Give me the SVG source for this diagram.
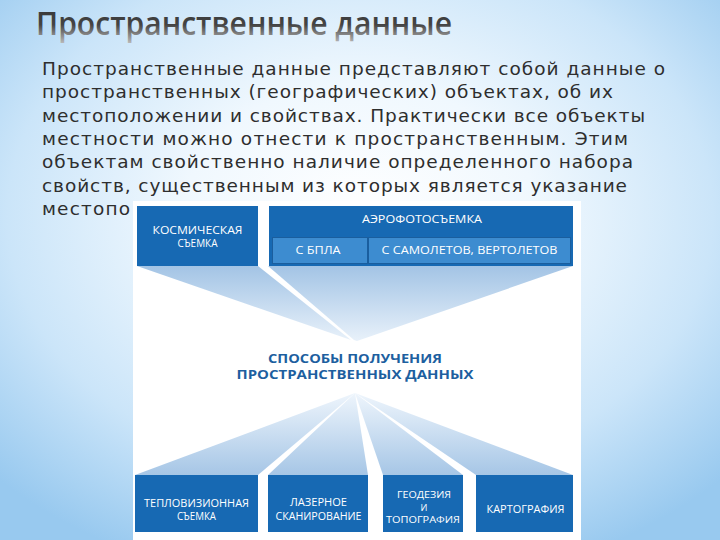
<svg xmlns="http://www.w3.org/2000/svg" width="720" height="540" viewBox="0 0 720 540">
<defs>
<radialGradient id="bg" cx="0.5" cy="0.4" r="0.7">
<stop offset="0" stop-color="#ffffff"/>
<stop offset="0.35" stop-color="#f0f8fe"/>
<stop offset="0.7" stop-color="#cbe5f9"/>
<stop offset="1" stop-color="#98c9ef"/>
</radialGradient>
<linearGradient id="titleg" x1="0" y1="0" x2="0" y2="1">
<stop offset="0" stop-color="#333333"/>
<stop offset="0.55" stop-color="#444444"/>
<stop offset="0.75" stop-color="#808080"/>
<stop offset="1" stop-color="#c4c4c4"/>
</linearGradient>
<linearGradient id="fanTop" gradientUnits="userSpaceOnUse" x1="0" y1="266" x2="0" y2="341">
<stop offset="0" stop-color="#a3c4e5"/>
<stop offset="1" stop-color="#e8f1fa"/>
</linearGradient>
<linearGradient id="fanBot" gradientUnits="userSpaceOnUse" x1="0" y1="393" x2="0" y2="475">
<stop offset="0" stop-color="#eef5fc"/>
<stop offset="1" stop-color="#a6c6e6"/>
</linearGradient>
<style>
.body{font-family:"DejaVu Sans",sans-serif;font-size:18.5px;fill:#2e2e2e}
.box{fill:#1769b3}
.sub{fill:#3d8cd0;stroke:#1a5e9e;stroke-width:1}
.lbl{font-family:"Open Sans","Liberation Sans",sans-serif;font-size:10px;font-weight:500;fill:#ffffff;text-anchor:middle}
.sm{font-size:9px}
.ctr{font-family:"Open Sans","Liberation Sans",sans-serif;font-weight:700;font-size:12.5px;fill:#1d5f9f;text-anchor:middle}
.fanT{fill:url(#fanTop)}
.fanB{fill:url(#fanBot)}
</style>
</defs>
<rect x="0" y="0" width="720" height="540" fill="url(#bg)"/>
<text x="36" y="35" font-family="'Open Sans','DejaVu Sans',sans-serif" font-weight="600" font-size="33" fill="url(#titleg)" textLength="416" lengthAdjust="spacingAndGlyphs">Пространственные данные</text>
<g id="body-text" class="body">
<text x="42" y="75" textLength="623" lengthAdjust="spacing">Пространственные данные представляют собой данные о</text>
<text x="42" y="98" textLength="571" lengthAdjust="spacing">пространственных (географических) объектах, об их</text>
<text x="42" y="121.5" textLength="603" lengthAdjust="spacing">местоположении и свойствах. Практически все объекты</text>
<text x="42" y="145" textLength="586" lengthAdjust="spacing">местности можно отнести к пространственным. Этим</text>
<text x="42" y="168" textLength="591" lengthAdjust="spacing">объектам свойственно наличие определенного набора</text>
<text x="42" y="191.5" textLength="585" lengthAdjust="spacing">свойств, существенным из которых является указание</text>
<text x="42" y="215" textLength="88" lengthAdjust="spacing">местопо</text>
</g>
<rect id="panel" x="133" y="201" width="448" height="339" fill="#ffffff"/>
<g id="connectors">
<polygon class="fanT" points="137,266 258,266 351,340"/>
<polygon class="fanT" points="268,266 573,266 357,341 354,340"/>
<polygon class="fanB" points="355,393 135,475 258,475"/>
<polygon class="fanB" points="355,393 268,475 368,475"/>
<polygon class="fanB" points="355,393 383,475 463,475"/>
<polygon class="fanB" points="355,393 476,475 573,475"/>
</g>
<g id="node-space">
<rect class="box" x="137" y="206" width="121" height="60"/>
<text class="lbl" x="197.5" y="233.5" textLength="90" lengthAdjust="spacingAndGlyphs">КОСМИЧЕСКАЯ</text>
<text class="lbl" x="197.5" y="246.5" textLength="40" lengthAdjust="spacingAndGlyphs">СЪЕМКА</text>
</g>
<g id="node-aero">
<rect class="box" x="269" y="206" width="304" height="60"/>
<text class="lbl" x="422" y="222.5" textLength="120" lengthAdjust="spacingAndGlyphs">АЭРОФОТОСЪЕМКА</text>
</g>
<g id="node-uav">
<rect class="sub" x="272.5" y="237.5" width="95" height="26"/>
<text class="lbl" x="318" y="253.5" textLength="45" lengthAdjust="spacingAndGlyphs">С БПЛА</text>
</g>
<g id="node-planes">
<rect class="sub" x="368.5" y="237.5" width="202" height="26"/>
<text class="lbl" x="469.5" y="253.5" textLength="176" lengthAdjust="spacingAndGlyphs">С САМОЛЕТОВ, ВЕРТОЛЕТОВ</text>
</g>
<g id="node-center">
<text class="ctr" x="355" y="362.5" textLength="174" lengthAdjust="spacingAndGlyphs">СПОСОБЫ ПОЛУЧЕНИЯ</text>
<text class="ctr" x="355" y="379" textLength="237" lengthAdjust="spacingAndGlyphs">ПРОСТРАНСТВЕННЫХ ДАННЫХ</text>
</g>
<g id="node-thermal">
<rect class="box" x="135" y="475" width="123" height="57"/>
<text class="lbl" x="196.5" y="506.5" textLength="105" lengthAdjust="spacingAndGlyphs">ТЕПЛОВИЗИОННАЯ</text>
<text class="lbl" x="196.5" y="519.5" textLength="39" lengthAdjust="spacingAndGlyphs">СЪЕМКА</text>
</g>
<g id="node-laser">
<rect class="box" x="268" y="475" width="100" height="57"/>
<text class="lbl" x="318.5" y="505.5" textLength="57" lengthAdjust="spacingAndGlyphs">ЛАЗЕРНОЕ</text>
<text class="lbl" x="318.5" y="519.5" textLength="86" lengthAdjust="spacingAndGlyphs">СКАНИРОВАНИЕ</text>
</g>
<g id="node-geodesy">
<rect class="box" x="383" y="475" width="80" height="57"/>
<text class="lbl sm" x="424" y="498" textLength="54" lengthAdjust="spacingAndGlyphs">ГЕОДЕЗИЯ</text>
<text class="lbl sm" x="424" y="510.5">И</text>
<text class="lbl sm" x="423" y="523" textLength="74" lengthAdjust="spacingAndGlyphs">ТОПОГРАФИЯ</text>
</g>
<g id="node-cartography">
<rect class="box" x="476" y="475" width="97" height="57"/>
<text class="lbl" x="525.5" y="512.5" textLength="78" lengthAdjust="spacingAndGlyphs">КАРТОГРАФИЯ</text>
</g>
</svg>
